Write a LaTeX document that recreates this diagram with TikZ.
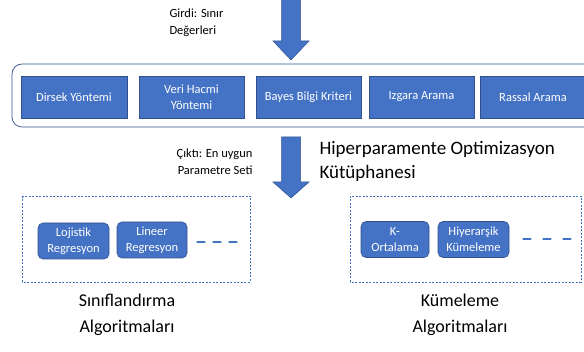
\documentclass[tikz,border=0pt]{standalone}
\usepackage{fontspec}
\setmainfont{Carlito}
\usepackage{tikz}

\definecolor{boxblue}{HTML}{4472C4}
\definecolor{edgeblue}{HTML}{2F528F}

\begin{document}
\begin{tikzpicture}[x=1pt,y=-1pt,
		method/.style={rectangle,draw=edgeblue,fill=boxblue,text=white,line width=0.6pt,
			minimum height=42pt,align=center,font=\fontsize{12.5}{16}\selectfont},
		algo/.style={rectangle,rounded corners=5pt,draw=edgeblue,fill=boxblue,text=white,line width=0.6pt,
			minimum height=36pt,align=center,inner sep=1pt,font=\fontsize{12.5}{16}\selectfont},
		blockarrow/.style={fill=boxblue,draw=edgeblue,line width=0.5pt},
		group/.style={draw=boxblue,line width=0.8pt,dash pattern=on 2pt off 1.5pt},
		more/.style={draw=boxblue,line width=2.6pt,line cap=round},
		note/.style={font=\fontsize{12.5}{17}\selectfont}]
	\useasboundingbox (0,0) rectangle (584,352);

	% giris oku
	\draw[blockarrow] (281.5,-2) -- (300.5,-2) -- (300.5,41) -- (309,41) -- (291,60)
		-- (273,41) -- (281.5,41) -- cycle;
	\node[note,anchor=west,align=left] (girdi) at (166,23) {Girdi: S\i n\i r\\De\u{g}erleri};

	% kutuphane
	\draw[edgeblue,line width=0.7pt,rounded corners=10pt] (12,64) rectangle (598,127);
	\begin{scope}[every node/.style={method}]
		\node[minimum width=106pt] (dirsek) at (74,97) {Dirsek Y\"ontemi};
		\node[minimum width=105pt] (hacim) at (191.5,97) {Veri Hacmi\\Y\"ontemi};
		\node[minimum width=105pt] (bayes) at (308.5,97) {Bayes Bilgi Kriteri};
		\node[minimum width=105pt] (izgara) at (421.5,97) {Izgara Arama};
		\node[minimum width=106pt] (rassal) at (533,97) {Rassal Arama};
	\end{scope}

	% cikis oku
	\draw[blockarrow] (281.5,137) -- (300.5,137) -- (300.5,182) -- (309,182) -- (291,198)
		-- (273,182) -- (281.5,182) -- cycle;
	\node[note,anchor=east,align=right] (cikti) at (256,162) {\c{C}\i kt\i: En uygun\\Parametre Seti};
	\node[anchor=west,align=left,font=\fontsize{19}{24}\selectfont] (baslik) at (316,161)
		{Hiperparamente Optimizasyon\\K\"ut\"uphanesi};

	% algoritma gruplari
	\draw[group] (22,196) rectangle (250,282);
	\draw[group] (350,196) rectangle (581,282);
	\begin{scope}[every node/.style={algo}]
		\node[minimum width=71pt] (lojistik) at (73.5,241) {Lojistik\\Regresyon};
		\node[minimum width=70pt] (lineer) at (152,240) {Lineer\\Regresyon};
		\node[minimum width=68pt] (kort) at (395,239.5) {K-\\Ortalama};
		\node[minimum width=71pt] (hiyer) at (473.5,239.5) {Hiyerar\c{s}ik\\K\"umeleme};
	\end{scope}
	\coordinate (moreA) at (197.5,242);
	\coordinate (moreB) at (523.5,239);
	\draw[more,dash pattern=on 7pt off 9pt] (moreA) -- ++(39,0);
	\draw[more,dash pattern=on 7pt off 13pt] (moreB) -- ++(47,0);

	\node[align=center,font=\fontsize{18}{26}\selectfont] (sinif) at (127,315) {S\i n\i fland\i rma\\Algoritmalar\i};
	\node[align=center,font=\fontsize{18}{26}\selectfont] (kume) at (460,315) {K\"umeleme\\Algoritmalar\i};
\end{tikzpicture}
\end{document}
